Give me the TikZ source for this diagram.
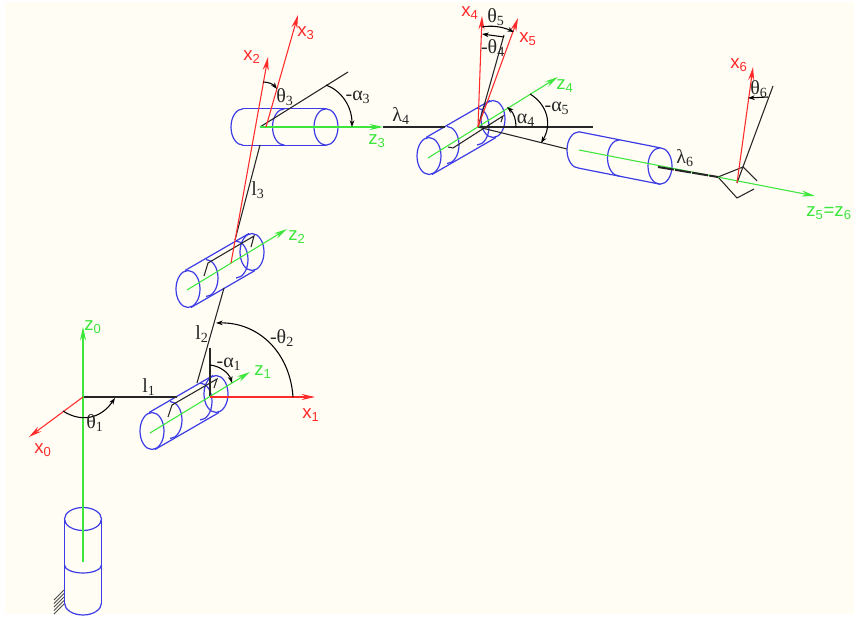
\documentclass[tikz,border=0pt]{standalone}
\usepackage{fontspec}
\setmainfont{Liberation Serif}
\newfontfamily\axisfont{Liberation Sans}
\usetikzlibrary{arrows.meta}
\definecolor{paper}{HTML}{FFFDF4}
\definecolor{cylblue}{HTML}{3C3CE6}
\definecolor{axisred}{HTML}{FF2A2A}
\definecolor{axisgreen}{HTML}{3CE63C}
\tikzset{
  cyl/.style={cylblue,line width=0.9pt},
  link/.style={black!85,line width=0.8pt},
  xaxis/.style={axisred,line width=0.8pt,-{Stealth[length=10pt,width=4.5pt]}},
  zaxis/.style={axisgreen,line width=0.8pt,-{Stealth[length=10pt,width=4.5pt]}},
  turn/.style={black,line width=0.8pt,-{Stealth[length=5pt,width=3.5pt]}},
  lab/.style={inner sep=0pt,font=\fontsize{15}{15}\selectfont,black!85},
  xlab/.style={inner sep=0pt,font=\axisfont\fontsize{14}{14}\selectfont,axisred},
  zlab/.style={inner sep=0pt,font=\axisfont\fontsize{14}{14}\selectfont,axisgreen},
}
\newcommand{\rollerup}[2]{
\begin{scope}[shift={(#1,#2)}]
\draw[cyl] (0,0) ellipse [x radius=12,y radius=18.5];
\draw[cyl] (64,-37) ellipse [x radius=12,y radius=18.5];
\draw[cyl] (-3,-18.5) -- (61,-55.5);
\draw[cyl] (3,18.5) -- (67,-18.5);
\draw[cyl] (18,-29.5) arc [start angle=-90,end angle=90,x radius=12,y radius=18.5];
\draw[cyl] (48,-48) arc [start angle=-90,end angle=90,x radius=12,y radius=18.5];
\end{scope}
}
\newcommand{\rollerlong}[4]{
\begin{scope}[shift={(#1,#2)}]
\draw[cyl] (0,-18.2) arc [start angle=-90,end angle=-270,x radius=12,y radius=18.2];
\draw[cyl] (#3,#4) ellipse [x radius=12,y radius=18.2];
\draw[cyl] (0,-18.2) -- (#3,#4-18.2);
\draw[cyl] (0,18.2) -- (#3,#4+18.2);
\draw[cyl] (#3/2,#4/2-18.2) arc [start angle=-90,end angle=-270,x radius=12,y radius=18.2];
\end{scope}
}
\begin{document}
\begin{tikzpicture}[x=0.75pt,y=-0.75pt]
\useasboundingbox (0,0) rectangle (854,617);
\fill[paper] (5,2) rectangle (854,614);

\coordinate (O0) at (83,397);
\coordinate (O1) at (210,397);
\coordinate (O3) at (260,127);
\coordinate (O4) at (478,127);
\coordinate (O6) at (737,183);

% base
\draw[cyl] (83,519) ellipse [x radius=18.5,y radius=11.5];
\draw[cyl] (64.5,565) arc [start angle=180,end angle=0,x radius=18.5,y radius=8];
\draw[cyl] (64.5,603) arc [start angle=180,end angle=0,x radius=18.5,y radius=12];
\draw[cyl] (64.5,519) -- (64.5,603);
\draw[cyl] (101.5,519) -- (101.5,603);
\foreach \y in {590,593.5,597,600.5,604}{
\draw[black!70,line width=0.6pt] (64,\y) -- (54,\y+10);
}

\rollerup{152}{431}
\rollerup{188}{289}
\rollerup{429}{156}
\rollerlong{243}{127}{83}{0}
\rollerlong{579}{150}{81}{16}

% links
\draw[link] (O0) -- (177,397);
\draw[link] (197,383) -- (224,288);
\draw[link,line width=1.2pt] (O1) -- (210,348);
\draw[link] (260,145) -- (235,240);
\draw[link] (383,127) -- (445,127);
\draw[link] (O4) -- (593,127);
\draw[link] (O4) -- (567,149);
\draw[link] (O3) -- (348,72);
\draw[link] (O4) -- (504,35);
\draw[link] (O6) -- (773,86);
\draw[link] (168,417) -- (172,405) -- (217,379) -- (214,388);
\draw[link] (204,276) -- (208,263) -- (254,236) -- (251,247);
\draw[link] (448,147) -- (453,148) -- (503,116) -- (501,122);
\draw[link] (718,177) -- (743,167) -- (757,181);
\draw[link] (718,177) -- (737,198) -- (754,189);

% axes
\draw[zaxis] (83,562) -- (83,327);
\draw[zaxis] (150,433) -- (250,372);
\draw[zaxis] (187,290) -- (287,229);
\draw[zaxis] (O3) -- (383,127);
\draw[zaxis] (428,158) -- (558,77);
\draw[zaxis] (579,150) -- (815,196);
\draw[link,line width=1.5pt,dash pattern=on 12pt off 1pt] (658,167) -- (718,177);
\draw[xaxis] (O0) -- (29,437);
\draw[xaxis] (O1) -- (315,397);
\draw[xaxis] (231,263) -- (268,57);
\draw[xaxis] (266,127) -- (298,15);
\draw[xaxis] (O4) -- (482,16);
\draw[xaxis] (O4) -- (518,18);
\draw[xaxis] (O6) -- (753,67);

% joint angles
\draw[turn] (63,411) .. controls (80,422) and (100,420) .. (115,398);
\draw[turn] (293,397) .. controls (290,352) and (258,322) .. (216,323);
\draw[turn] (210,365) .. controls (220,366) and (229,373) .. (232,383);
\draw[turn] (263,82) .. controls (268,82) and (273,84) .. (277,89);
\draw[turn] (326,85) .. controls (340,90) and (352,105) .. (352,127);
\draw[turn] (482,27) .. controls (492,25) and (503,27) .. (514,32);
\draw[turn] (504,37) -- (482,34);
\draw[turn] (516,127) .. controls (516,120) and (514,113) .. (507,107);
\draw[turn] (530,94) .. controls (548,105) and (552,125) .. (541,143);
\draw[turn] (768,97) -- (748,98);

% labels
\node[xlab] (x0) at (43,450) {x\textsubscript{0}};
\node[xlab] (x1) at (311,415) {x\textsubscript{1}};
\node[xlab] (x2) at (252,57) {x\textsubscript{2}};
\node[xlab] (x3) at (306,33) {x\textsubscript{3}};
\node[xlab] (x4) at (470,13) {x\textsubscript{4}};
\node[xlab] (x5) at (528,39) {x\textsubscript{5}};
\node[xlab] (x6) at (739,65) {x\textsubscript{6}};
\node[zlab] (z0) at (93,327) {z\textsubscript{0}};
\node[zlab] (z1) at (263,372) {z\textsubscript{1}};
\node[zlab] (z2) at (297,237) {z\textsubscript{2}};
\node[zlab] (z3) at (377,141) {z\textsubscript{3}};
\node[zlab] (z4) at (565,86) {z\textsubscript{4}};
\node[zlab,anchor=east] (z56) at (852,213) {z\textsubscript{5}=z\textsubscript{6}};
\node[lab] (l1) at (149,387) {l\textsubscript{1}};
\node[lab] (l2) at (202,334) {l\textsubscript{2}};
\node[lab] (l3) at (258,190) {l\textsubscript{3}};
\node[lab] (lam4) at (401,116) {λ\textsubscript{4}};
\node[lab] (lam6) at (685,158) {λ\textsubscript{6}};
\node[lab] (th1) at (95,423) {θ\textsubscript{1}};
\node[lab] (th2) at (282,338) {-θ\textsubscript{2}};
\node[lab] (th3) at (285,97) {θ\textsubscript{3}};
\node[lab] (th4) at (493,48) {-θ\textsubscript{4}};
\node[lab] (th5) at (496,17) {θ\textsubscript{5}};
\node[lab] (th6) at (759,89) {θ\textsubscript{6}};
\node[lab] (al1) at (229,364) {-α\textsubscript{1}};
\node[lab] (al3) at (358,97) {-α\textsubscript{3}};
\node[lab] (al4) at (526,120) {α\textsubscript{4}};
\node[lab] (al5) at (557,108) {-α\textsubscript{5}};
\end{tikzpicture}
\end{document}
